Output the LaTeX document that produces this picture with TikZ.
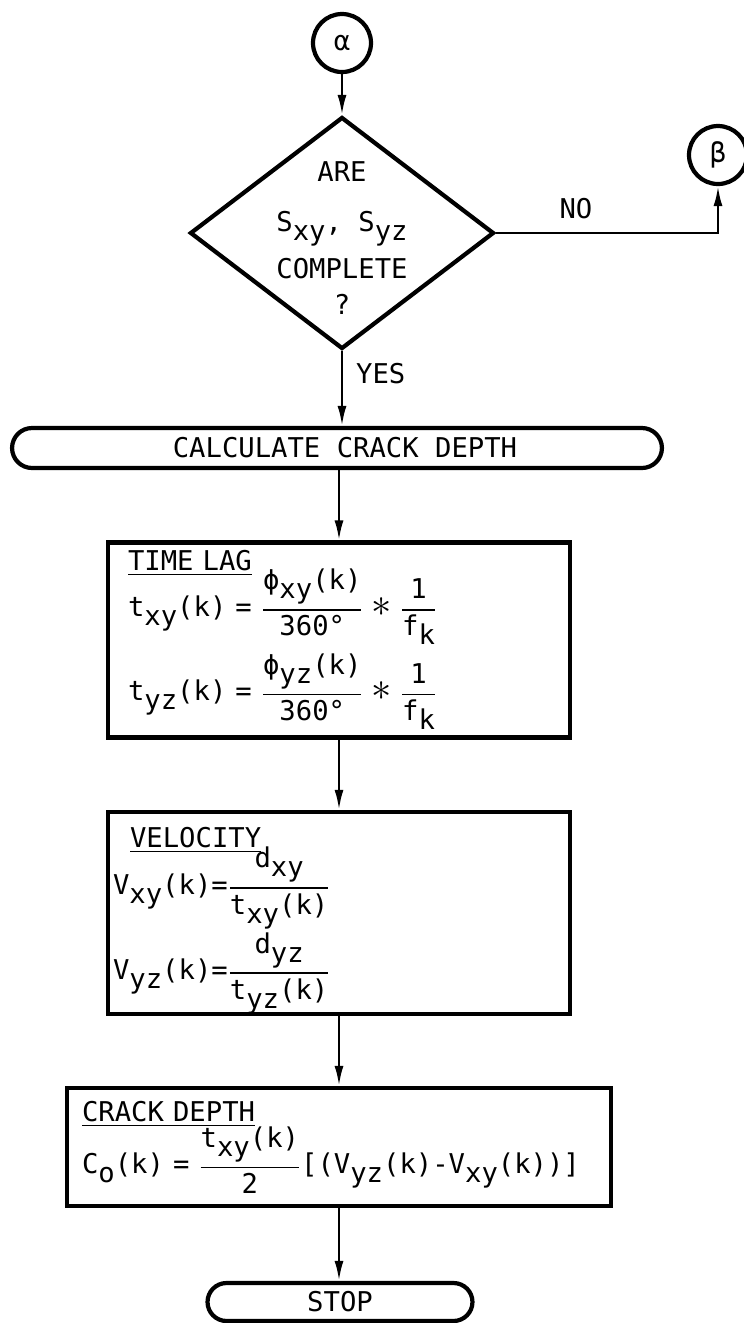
\documentclass[tikz,border=0pt]{standalone}
\usepackage{fontspec}
\usepackage{amsmath}
\usepackage{graphicx}
\setmonofont{DejaVu Sans Mono}
\usetikzlibrary{shapes.geometric,arrows.meta}

% lowered subscript, fraction and star in the lettering font
\newcommand{\lo}[1]{\raisebox{-0.6ex}{#1}}
\newcommand{\fr}[2]{$\genfrac{}{}{0.9pt}{0}{\text{#1}}{\text{#2}}$}
\newcommand{\mul}{\hspace{0.3em}\scalebox{1.6}{$\ast$}\hspace{0.3em}}

\tikzset{
  chart/.style={font=\ttfamily\fontsize{15.5}{18.5}\selectfont},
  flow/.style={line width=1.4pt, -{Latex[length=4mm,width=1.8mm]}},
  connector/.style={draw, circle, line width=2.4pt, minimum size=1.16cm, inner sep=0pt},
  decision/.style={draw, diamond, line width=2.4pt, minimum width=6.08cm, minimum height=4.64cm, inner sep=0pt},
  terminal/.style={draw, rectangle, rounded corners=0.4cm, line width=2.4pt, minimum height=0.8cm, inner sep=0pt},
  process/.style={draw, rectangle, line width=2.4pt, align=left}
}

\begin{document}
\begin{tikzpicture}[x=0.02cm, y=-0.02cm, chart]
  \useasboundingbox (0,0) rectangle (744,1323);
  \node[connector] (alpha) at (342,43) {α};
  \node[decision] (dec) at (342,233) {};
  \node[align=center, inner sep=0pt] (dectext) at (342,238)
    {ARE\\[10pt] S\lo{xy}, S\lo{yz}\\[6pt] COMPLETE\\[2pt] ?};
  \node[connector] (beta) at (718,155) {β};
  \node[terminal, minimum width=13cm] (calc) at (337,448) {\hspace*{0.32cm}CALCULATE CRACK DEPTH};
  \node[process, text width=8.44cm, inner xsep=0.4cm, minimum height=3.9cm] (lag) at (339,640) {%
    \underline{TIME LAG}\\[-5pt]
    t\lo{xy}(k) = \fr{ϕ\lo{xy}(k)}{360°}\mul\fr{1}{f\lo{k}}\\[4pt]
    t\lo{yz}(k) = \fr{ϕ\lo{yz}(k)}{360°}\mul\fr{1}{f\lo{k}}};
  \node[process, text width=9.04cm, inner xsep=0.1cm, inner ysep=0pt, minimum height=3.94cm] (vel) at (339,913) {%
    \rule{0pt}{20pt}\hspace*{0.34cm}\underline{VELOCITY}\\[-4pt]
    V\lo{xy}(k)=\fr{d\lo{xy}}{t\lo{xy}(k)}\\[1pt]
    V\lo{yz}(k)=\fr{d\lo{yz}}{t\lo{yz}(k)}};
  \node[process, text width=10.28cm, inner xsep=0.3cm, minimum height=2.36cm] (crack) at (339,1147) {%
    \underline{CRACK DEPTH}\\[-1pt]
    C\lo{o}(k) = \fr{t\lo{xy}(k)}{2}[(V\lo{yz}(k)-V\lo{xy}(k))]};
  \node[terminal, minimum width=5.3cm, minimum height=0.76cm, rounded corners=0.38cm] (stop) at (340,1302) {STOP};

  \draw[flow] (alpha) -- (dec);
  \draw[flow] (dec.east) -| (beta) node[pos=0.18, above=4pt] {NO};
  \draw[flow] (dec.south) -- (dec.south |- calc.north) node[pos=0.3, right=4pt] {YES};
  \draw[flow] (lag.north |- calc.south) -- (lag.north);
  \draw[flow] (lag.south) -- (vel.north);
  \draw[flow] (vel.south) -- (crack.north);
  \draw[flow] (crack.south) -- (crack.south |- stop.north);
\end{tikzpicture}
\end{document}
